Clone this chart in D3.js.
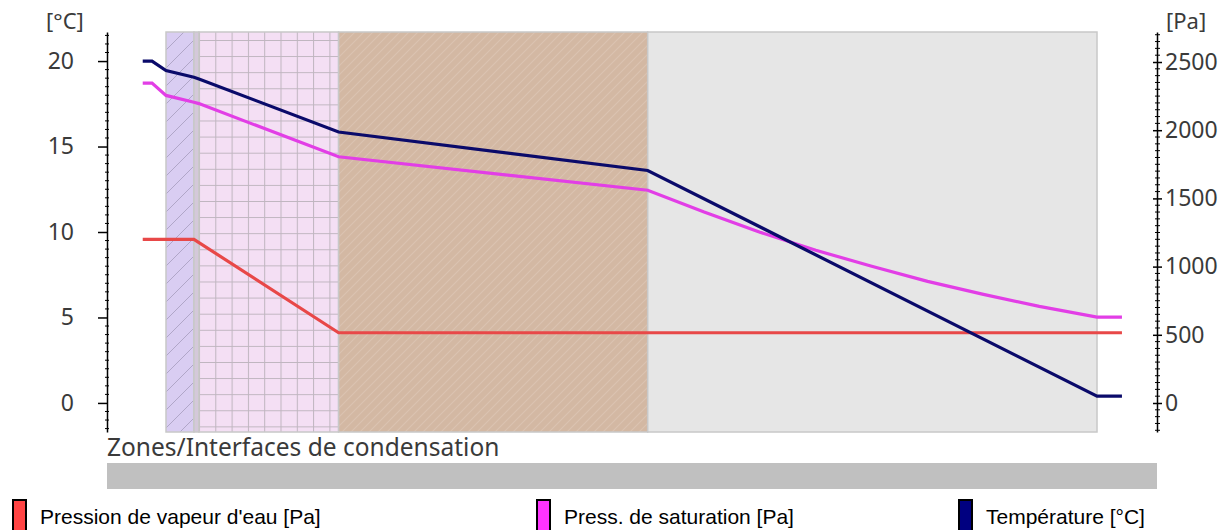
<!DOCTYPE html>
<html>
<head>
<meta charset="utf-8">
<script src="https://cdn.jsdelivr.net/npm/d3@7"></script>
<style>
  body { margin: 0; background: #fff; }
  svg { display: block; }
</style>
</head>
<body>
<div id="chart-area"></div>
<script>
// Layer boundaries through the wall (cm)
var layerEdges = [0, 1.5, 1.77, 9.27, 25.87, 50];

// Temperature [°C]
var tempX    = [-1.25, -0.75, 0, 1.5, 1.77, 9.27, 25.87, 50, 51.34];
var tempVals = [20.0, 20.0, 19.45, 19.05, 18.95, 15.85, 13.6, 0.4, 0.4];

// Saturation pressure [Pa]
var psatX    = [-1.25, -0.75, 0, 1.5, 1.77, 9.27, 25.87, 28.9, 31.9, 34.9, 37.9, 40.9, 43.9, 46.9, 50, 51.34];
var psatVals = [2345, 2345, 2255, 2205, 2195, 1805, 1560, 1400, 1252, 1120, 1002, 892, 796, 708, 630, 630];

// Water vapour pressure [Pa]
var pvX    = [-1.25, 1.5, 9.27, 51.34];
var pvVals = [1200, 1200, 515, 515];

// Axis ticks
var tempTicks = [0, 5, 10, 15, 20];
var paTicks = [0, 500, 1000, 1500, 2000, 2500];

var legendLabels = ["Pression de vapeur d'eau [Pa]", "Press. de saturation [Pa]", "Température [°C]"];

var W = 1231, H = 530;
var svg = d3.select("#chart-area").append("svg")
    .attr("width", W)
    .attr("height", H);

// Scales
var x = d3.scaleLinear().domain([0, 50]).range([166, 1097]);
var yT = d3.scaleLinear().domain([-1.7, 21.7]).range([432, 32]);
var yP = d3.scaleLinear().domain([-212.6, 2720]).range([432, 32]);

var plotTop = yT.range()[1], plotBottom = yT.range()[0];

// Patterns
var defs = svg.append("defs");

var p1 = defs.append("pattern").attr("id", "hatchPurple")
    .attr("patternUnits", "userSpaceOnUse")
    .attr("width", 18).attr("height", 18);
p1.append("rect").attr("width", 18).attr("height", 18).attr("fill", "#d9cdf2");
p1.append("path").attr("d", "M-4,4 L4,-4 M0,18 L18,0 M14,22 L22,14")
    .attr("stroke", "#b0a6c8").attr("stroke-width", 1);

var p2 = defs.append("pattern").attr("id", "gridPink")
    .attr("patternUnits", "userSpaceOnUse")
    .attr("x", 199).attr("y", 40)
    .attr("width", 16.3).attr("height", 16.1);
p2.append("rect").attr("width", 16.3).attr("height", 16.1).attr("fill", "#f4dff4");
p2.append("path").attr("d", "M0,0 L0,16.1 M0,0 L16.3,0")
    .attr("stroke", "#bfb5bf").attr("stroke-width", 2);

var p3 = defs.append("pattern").attr("id", "hatchTan")
    .attr("patternUnits", "userSpaceOnUse")
    .attr("width", 9).attr("height", 9);
p3.append("rect").attr("width", 9).attr("height", 9).attr("fill", "#d3b8a3");
p3.append("path").attr("d", "M-2,2 L2,-2 M0,9 L9,0 M7,11 L11,7")
    .attr("stroke", "#dbc3b1").attr("stroke-width", 1.1);

// Layers
var layerFills = ["url(#hatchPurple)", "#d4c8da", "url(#gridPink)", "url(#hatchTan)", "#e6e6e6"];
var layers = d3.range(layerEdges.length - 1).map(function(i) {
    return { x0: layerEdges[i], x1: layerEdges[i + 1], fill: layerFills[i] };
});

var gLayers = svg.append("g").attr("class", "layers");
gLayers.selectAll("rect")
    .data(layers)
    .enter().append("rect")
    .attr("x", function(d) { return x(d.x0); })
    .attr("y", plotTop)
    .attr("width", function(d) { return x(d.x1) - x(d.x0); })
    .attr("height", plotBottom - plotTop)
    .attr("fill", function(d) { return d.fill; })
    .attr("stroke", "#c8c8c8")
    .attr("stroke-width", 1.5);

// Left axis (temperature)
var leftAxis = svg.append("g")
    .attr("transform", "translate(107,0)")
    .call(d3.axisLeft(yT).tickValues(tempTicks).tickSize(9).tickSizeOuter(0).tickPadding(24));

var minorT = d3.range(-1.5, 21.6, 0.5).filter(function(v) { return v % 5 !== 0; });
leftAxis.selectAll(".minor")
    .data(minorT)
    .enter().append("line")
    .attr("class", "minor")
    .attr("x1", -2).attr("x2", 2)
    .attr("y1", function(d) { return yT(d); })
    .attr("y2", function(d) { return yT(d); })
    .attr("stroke", "#000");

// Right axis (pressure)
var rightAxis = svg.append("g")
    .attr("transform", "translate(1157,0)")
    .call(d3.axisRight(yP).tickValues(paTicks).tickFormat(d3.format("d"))
        .tickSize(5).tickSizeOuter(0).tickPadding(3));
rightAxis.selectAll(".tick line").attr("x1", -4);

var minorP = d3.range(-200, 2701, 50).filter(function(v) { return v % 500 !== 0; });
rightAxis.selectAll(".minor")
    .data(minorP)
    .enter().append("line")
    .attr("class", "minor")
    .attr("x1", -2).attr("x2", 3)
    .attr("y1", function(d) { return yP(d); })
    .attr("y2", function(d) { return yP(d); })
    .attr("stroke", "#000");

svg.selectAll(".domain").attr("stroke", "#000").attr("stroke-width", 1.5);
svg.selectAll(".tick line").attr("stroke", "#000").attr("stroke-width", 1.5);
svg.selectAll(".tick text")
    .attr("font-family", "'Noto Sans', 'Open Sans', sans-serif")
    .attr("font-size", "23px")
    .attr("fill", "#3a3a3a");

// Units
svg.append("text")
    .attr("x", 46).attr("y", 29)
    .attr("font-family", "'Noto Sans', 'Open Sans', sans-serif")
    .attr("font-size", "22px")
    .attr("fill", "#3a3a3a")
    .text("[°C]");

svg.append("text")
    .attr("x", 1166).attr("y", 29)
    .attr("font-family", "'Noto Sans', 'Open Sans', sans-serif")
    .attr("font-size", "22px")
    .attr("fill", "#3a3a3a")
    .text("[Pa]");

// Lines
function lineData(xs, vs) {
    return xs.map(function(d, i) { return { x: d, v: vs[i] }; });
}

var lineP = d3.line()
    .x(function(d) { return x(d.x); })
    .y(function(d) { return yP(d.v); });
var lineT = d3.line()
    .x(function(d) { return x(d.x); })
    .y(function(d) { return yT(d.v); });

svg.append("path")
    .datum(lineData(pvX, pvVals))
    .attr("fill", "none")
    .attr("stroke", "#e84848")
    .attr("stroke-width", 3.2)
    .attr("d", lineP);

svg.append("path")
    .datum(lineData(psatX, psatVals))
    .attr("fill", "none")
    .attr("stroke", "#e23ee6")
    .attr("stroke-width", 3.2)
    .attr("d", lineP);

svg.append("path")
    .datum(lineData(tempX, tempVals))
    .attr("fill", "none")
    .attr("stroke", "#0a0a6a")
    .attr("stroke-width", 3.2)
    .attr("d", lineT);

// Condensation zones
svg.append("text")
    .attr("x", 107).attr("y", 456)
    .attr("font-family", "'Noto Sans', 'Open Sans', sans-serif")
    .attr("font-size", "24.5px")
    .attr("fill", "#3a3a3a")
    .text("Zones/Interfaces de condensation");

svg.append("rect")
    .attr("x", 107).attr("y", 463)
    .attr("width", 1050).attr("height", 26)
    .attr("fill", "#c0c0c0");

// Legend
var legendColors = ["#ff4444", "#ff33ff", "#000080"];
var legendX = [12, 536, 958];

var legend = svg.selectAll(".legend")
    .data(legendLabels)
    .enter().append("g")
    .attr("class", "legend")
    .attr("transform", function(d, i) { return "translate(" + legendX[i] + ",0)"; });

legend.append("rect")
    .attr("x", 1).attr("y", 500)
    .attr("width", 13).attr("height", 36)
    .attr("fill", function(d, i) { return legendColors[i]; })
    .attr("stroke", "#000")
    .attr("stroke-width", 2);

legend.append("text")
    .attr("x", 28).attr("y", 524)
    .attr("font-family", "'Liberation Sans', Arial, sans-serif")
    .attr("font-size", "21px")
    .attr("fill", "#000")
    .text(function(d) { return d; });
</script>
</body>
</html>
